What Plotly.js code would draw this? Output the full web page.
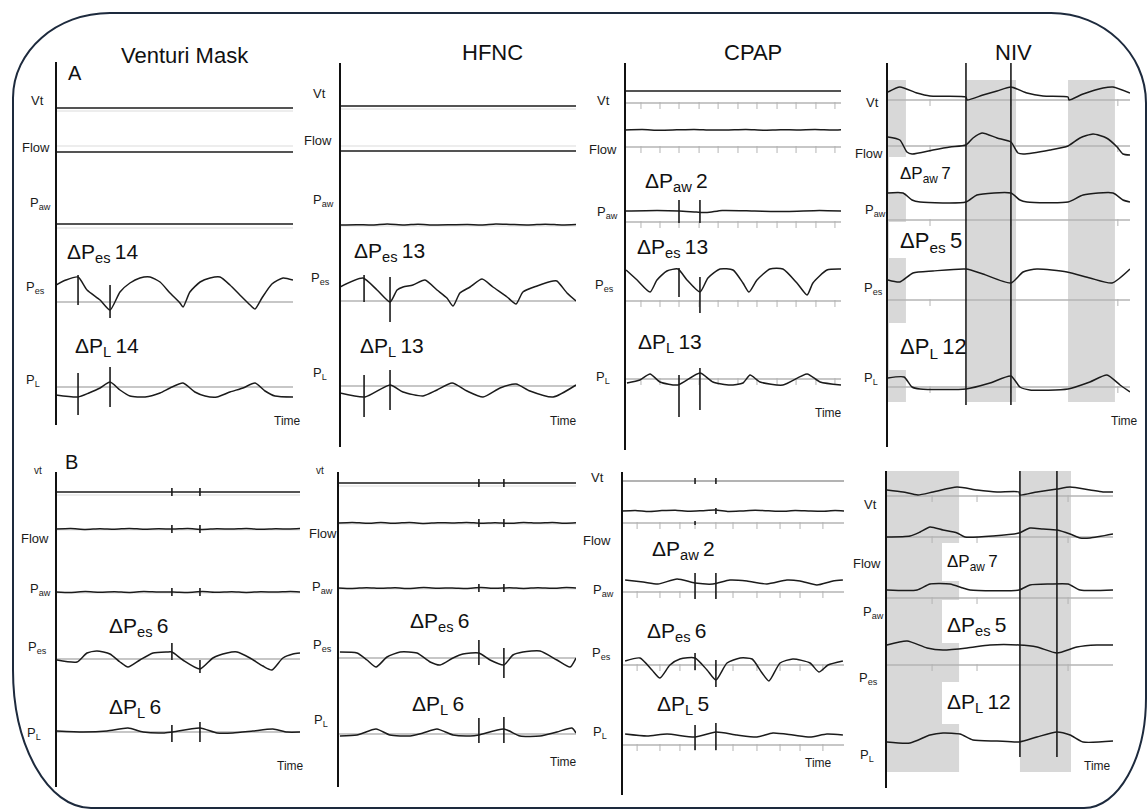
<!DOCTYPE html>
<html><head><meta charset="utf-8">
<script src="https://cdn.plot.ly/plotly-3.0.1.min.js"></script>
<style>html,body{margin:0;padding:0;background:#fff}#chart{width:1148px;height:810px}</style>
</head><body><div id="chart"></div>
<script>
// ================= DATA (time: 0-100 per panel; values: signal units above the grey baseline) =================
const panelTitles = ["Venturi Mask", "HFNC", "CPAP", "NIV"];
const rowLetters = ["A", "B"];
const channelNames = ["Vt", "Flow", "P<sub>aw</sub>", "P<sub>es</sub>", "P<sub>L</sub>"];
const timeLabel = "Time";

// ---- Row A : Venturi Mask ----
const A_vm_vt_t = [0, 25, 50, 75, 100];           const A_vm_vt = [3, 3, 3, 3, 3];
const A_vm_flow_t = [0, 25, 50, 75, 100];         const A_vm_flow = [-6, -6, -6, -6, -6];
const A_vm_paw_t = [0, 25, 50, 75, 100];          const A_vm_paw = [4, 4, 4, 4, 4];
const A_vm_pes_t = [0, 4.2, 9.3, 13.1, 18.6, 22.8, 27.0, 31.2, 35.4, 39.7, 43.9, 48.1, 52.3, 53.6, 56.5, 60.8, 65.0, 69.2, 73.4, 77.6, 81.9, 84.0, 86.9, 91.1, 95.8, 100];
const A_vm_pes   = [17, 22, 25, 12, 2, -8, 10, 19, 24, 25, 20, 9, -1, -5, 10, 20, 24, 25, 17, 7, -3, -7, 4, 18, 24, 22];
const A_vm_pl_t = [0, 9.3, 13.9, 18.6, 22.8, 27.0, 31.2, 37.6, 43.9, 48.1, 53.6, 58.6, 62.9, 67.9, 73.4, 78.9, 84.0, 88.2, 92.4, 100];
const A_vm_pl   = [-8, -10, -6, -1, 5, -3, -9, -10, -6, -1, 4, -5, -9, -10, -5, -1, 4, -4, -9, -10];
const A_vm_marks = { pes: [[9.3, 27, -3], [22.8, 17, -16]], pl: [[9.3, 14, -28], [22.8, 20, -20]] };
const A_vm_deltas = [["P<sub>es</sub>", 14], ["P<sub>L</sub>", 14]];

// ---- Row A : HFNC ----
const A_hf_vt_t = [0, 25, 50, 75, 100];           const A_hf_vt = [3, 3, 3, 3, 3];
const A_hf_flow_t = [0, 25, 50, 75, 100];         const A_hf_flow = [-5, -5, -5, -5, -5];
const A_hf_paw_t = [0, 7, 14, 20, 27, 33, 40, 47, 54, 60, 66, 72, 80, 87, 94, 100];
const A_hf_paw   = [1, 1.3, 1, 2, 1, 1.8, 1, 1.2, 1.5, 1, 2, 1.6, 1, 1.8, 1, 1.4];
const A_hf_pes_t = [0, 9.7, 15.7, 21.2, 24.2, 26.7, 30.9, 36.0, 41.1, 45.3, 47.9, 50.8, 55.1, 60.2, 64.8, 70.8, 74.6, 77.5, 83.5, 90.3, 91.9, 96.2, 100];
const A_hf_pes   = [14, 23, 11, -1, 11, 14, 16, 21, 11, 3, -5, 8, 14, 22, 14, 4, -3, 9, 15, 20, 20, 8, 0];
const A_hf_pl_t = [0, 10.6, 21.2, 26.7, 35.2, 41.1, 47.5, 53.8, 60.6, 67.8, 74.6, 80.5, 90.3, 100];
const A_hf_pl   = [-7, -11, 1, -6, -10, -4, 3, -5, -11, -2, 2, -5, -11, 1];
const A_hf_marks = { pes: [[10.2, 26, -1], [21.2, 24, -21]], pl: [[10.2, 11, -31], [21.2, 16, -24]] };
const A_hf_deltas = [["P<sub>es</sub>", 13], ["P<sub>L</sub>", 13]];

// ---- Row A : CPAP ----
const A_cp_vt_t = [0, 25, 50, 75, 100];           const A_cp_vt = [12, 12, 12, 12, 12];
const A_cp_flow_t = [0, 8, 16, 24, 32, 40, 48, 56, 64, 72, 80, 88, 96, 100];
const A_cp_flow   = [17, 17.4, 16.8, 17.2, 17.6, 16.9, 17.1, 17.5, 16.8, 17.3, 17, 17.4, 16.9, 17.2];
const A_cp_paw_t = [0, 15, 25, 33, 38, 45, 60, 75, 90, 100];
const A_cp_paw   = [11, 11.5, 11, 10, 9.5, 11.5, 11, 10.5, 11.5, 11];
const A_cp_pes_t = [0.5, 5.6, 11.6, 14.8, 19.4, 24.5, 28.7, 34.7, 38.4, 44.0, 50.0, 54.6, 57.4, 61.1, 67.1, 73.1, 79.6, 84.3, 87.0, 93.5, 100];
const A_cp_pes   = [31, 21, 9, 21, 30, 32, 21, 9, 23, 32, 31, 18, 9, 21, 32, 32, 18, 6, 18, 31, 32];
const A_cp_pl_t = [0.9, 6.9, 11.6, 16.2, 24.5, 34.7, 40.7, 48.6, 54.6, 57.9, 62.5, 73.1, 84.3, 90.3, 100];
const A_cp_pl   = [-4, -1, 5, -3, -6, 6, -3, -6, -4, 4, -3, -6, 5, -3, -6];
const A_cp_marks = { paw: [[25.0, 22, -1], [34.7, 22, -1]], pes: [[25.0, 33, 4], [34.7, 24, -12]], pl: [[25.0, 4, -38], [34.7, 11, -31]] };
const A_cp_ticks = [7.4, 16.2, 25.0, 34.3, 43.1, 52.3, 61.1, 70.4, 79.2, 88.4, 97.2];
const A_cp_deltas = [["P<sub>aw</sub>", 2], ["P<sub>es</sub>", 13], ["P<sub>L</sub>", 13]];

// ---- Row A : NIV ----
const A_niv_vt_t = [0.4, 5.3, 12.3, 17.7, 32.5, 32.9, 39.5, 45.3, 51.0, 57.6, 64.2, 74.5, 74.9, 80.7, 88.9, 93.0, 100];
const A_niv_vt   = [8, 13, 7, 4, 3, 0, 5, 9, 13, 7, 4, 3, 0, 6, 12, 13, 7];
const A_niv_flow_t = [0.4, 5.3, 8.2, 10.3, 18.9, 25.9, 32.5, 35.4, 39.1, 45.3, 51.0, 53.9, 56.0, 67.1, 74.5, 79.4, 84.8, 90.3, 94.7, 97.1, 100];
const A_niv_flow   = [9, 6, -6, -8, -4, -1, 1, 8, 13, 8, 4, -7, -8, -4, 0, 8, 12, 8, -1, -8, -9];
const A_niv_paw_t = [0.4, 6.6, 10.3, 13.6, 32.5, 37.0, 51.0, 54.7, 57.6, 74.5, 80.7, 93.0, 97.1, 100];
const A_niv_paw   = [27, 27, 20, 18, 18, 25, 27, 20, 18, 18, 25, 27, 20, 18];
const A_niv_pes_t = [0.4, 5.3, 10.7, 18.9, 32.5, 39.5, 51.0, 56.0, 61.7, 74.1, 83.5, 92.6, 100];
const A_niv_pes   = [20, 18, 27, 29, 31, 26, 17, 28, 31, 28, 22, 17, 31];
const A_niv_pl_t = [0.4, 7.0, 10.3, 13.6, 32.5, 42.4, 51.0, 54.7, 58.8, 74.5, 83.5, 90.5, 95.9, 100];
const A_niv_pl   = [9, 10, 0, -2, -2, 4, 11, 0, -3, -2, 5, 12, 2, -5];
const A_niv_inspiration = [[0.4, 7.8], [32.9, 53.1], [74.5, 93.8]];
const A_niv_cursors = [32.5, 51.0];
const A_niv_ticks = [17.7, 51.0, 95.0];
const A_niv_deltas = [["P<sub>aw</sub>", 7], ["P<sub>es</sub>", 5], ["P<sub>L</sub>", 12]];

// ---- Row B : Venturi Mask ----
const B_vm_vt_t = [0, 25, 50, 75, 100];           const B_vm_vt = [3, 3, 3, 3, 3];
const B_vm_flow_t = [0, 6, 12, 18, 24, 30, 36, 42, 48, 54, 60, 66, 72, 78, 84, 90, 96, 100];
const B_vm_flow   = [1, 1.5, 0.6, 1.3, 0.8, 1.6, 0.7, 1.2, 1, 1.5, 0.6, 1.3, 0.9, 1.5, 0.7, 1.2, 1, 1.4];
const B_vm_paw_t = [0, 6, 12, 18, 24, 30, 36, 42, 48, 54, 60, 66, 72, 78, 84, 90, 96, 100];
const B_vm_paw   = [1, 0.5, 1.4, 0.8, 1.2, 0.6, 1.5, 0.9, 1.1, 0.6, 1.4, 0.8, 1.3, 0.6, 1.2, 0.9, 1.4, 1];
const B_vm_pes_t = [0.4, 8.6, 12.7, 16.8, 22.1, 26.2, 29.5, 34.4, 39.8, 45.5, 47.5, 52.0, 59.0, 64.3, 70.1, 74.2, 79.5, 84.8, 88.5, 93.0, 97.1, 100];
const B_vm_pes   = [-1, -3, 6, 8, 5, -3, -8, -1, 6, 7, 7, -1, -10, 1, 6, 7, 1, -7, -11, 1, 5, 6];
const B_vm_pl_t = [0.4, 11.1, 20.9, 29.5, 35.7, 43.9, 47.5, 59.0, 66.0, 72.5, 80.7, 88.9, 94.7, 100];
const B_vm_pl   = [1, 0, 1, 4, 0, -1, 0, 4, -1, -1, 1, 3, 0, 0];
const B_vm_marks = { vt: [[47.5, 7, -1], [59.0, 7, -1]], flow: [[47.5, 5, -3], [59.0, 5, -3]], paw: [[47.5, 5, -3], [59.0, 5, -3]],
                     pes: [[47.5, 16, -1], [59.0, -1, -14]], pl: [[47.5, 7, -10], [59.0, 10, -10]] };
const B_vm_deltas = [["P<sub>es</sub>", 6], ["P<sub>L</sub>", 6]];

// ---- Row B : HFNC ----
const B_hf_vt_t = [0, 25, 50, 75, 100];           const B_hf_vt = [3, 3, 3, 3, 3];
const B_hf_flow_t = [0, 6, 12, 18, 24, 30, 36, 42, 48, 54, 60, 66, 72, 78, 84, 90, 96, 100];
const B_hf_flow   = [1, 1.6, 0.7, 1.4, 0.8, 1.5, 0.6, 1.3, 1, 1.6, 0.8, 1.3, 0.7, 1.5, 0.9, 1.4, 0.8, 1.2];
const B_hf_paw_t = [0, 6, 12, 18, 24, 30, 36, 42, 48, 54, 60, 66, 72, 78, 84, 90, 96, 100];
const B_hf_paw   = [1, 0.5, 1.3, 0.7, 1.2, 0.5, 1.4, 0.8, 1.1, 0.6, 1.5, 0.7, 1.2, 0.6, 1.3, 0.8, 1.4, 1];
const B_hf_pes_t = [0.8, 8.0, 12.2, 16.0, 20.6, 26.1, 33.2, 38.7, 42.9, 48.3, 52.5, 59.2, 63.9, 69.7, 73.5, 77.7, 84.9, 92.0, 97.5, 100];
const B_hf_pes   = [6, 5, -2, -9, 1, 6, 5, -4, -7, 0, 4, 5, -2, -7, 3, 6, 7, -2, -9, 0];
const B_hf_pl_t = [0.8, 8.0, 16.0, 21.8, 30.3, 35.7, 41.6, 48.3, 55.5, 59.2, 69.7, 76.5, 84.9, 92.0, 98.3, 100];
const B_hf_pl   = [-2, -1, 5, -1, -2, 1, 5, -1, -2, -1, 5, -2, -2, 2, 6, 1];
const B_hf_marks = { vt: [[59.2, 7, -1], [69.7, 7, -1]], flow: [[59.2, 5, -3], [69.7, 5, -3]], paw: [[59.2, 5, -3], [69.7, 5, -3]],
                     pes: [[59.2, 18, -7], [69.7, 10, -20]], pl: [[59.2, 16, -9], [69.7, 17, -9]] };
const B_hf_deltas = [["P<sub>es</sub>", 6], ["P<sub>L</sub>", 6]];

// ---- Row B : CPAP ----
const B_cp_vt_t = [0, 25, 50, 75, 100];           const B_cp_vt = [0, 0, 0, 0, 0];
const B_cp_flow_t = [0, 6, 12, 18, 24, 30, 36, 42, 48, 54, 60, 66, 72, 78, 84, 90, 96, 100];
const B_cp_flow   = [12, 12.6, 11.6, 12.4, 12.8, 11.8, 12.3, 13, 11.5, 12, 12.7, 12.2, 11.7, 12.5, 12.1, 11.8, 12.4, 12];
const B_cp_paw_t = [1.4, 9.5, 16.2, 24.8, 32.9, 41.0, 48.6, 56.3, 65.3, 74.3, 80.2, 87.8, 95.0, 99.5];
const B_cp_paw   = [12, 10, 8, 13, 9, 8, 12, 11, 8, 12, 11, 7, 11, 12];
const B_cp_pes_t = [1.4, 8.1, 13.5, 17.1, 21.6, 26.1, 32.9, 38.3, 42.3, 47.3, 53.2, 58.6, 63.1, 66.2, 71.2, 77.0, 84.7, 88.7, 92.8, 99.5];
const B_cp_pes   = [4, 7, -5, -13, 0, 6, 7, -5, -15, 2, 7, 6, -8, -16, 2, 6, 2, -7, 0, 4];
const B_cp_pl_t = [1.4, 11.3, 20.3, 32.9, 42.3, 51.8, 60.8, 68.0, 77.0, 84.7, 92.3, 99.5];
const B_cp_pl   = [11, 9, 11, 8, 13, 10, 8, 12, 10, 8, 11, 10];
const B_cp_marks = { vt: [[32.9, 3, -3], [42.3, 3, -3]], flow: [[32.9, 2, -2], [42.3, 15, 9]], paw: [[32.9, 19, -7], [42.3, 19, -7]],
                     pes: [[32.9, 12, -5], [42.3, 5, -22]], pl: [[32.9, 20, -5], [42.3, 22, -5]] };
const B_cp_ticks = [6.8, 17.1, 26.1, 32.9, 42.3, 50.0, 60.8, 71.2, 80.2, 90.5];
const B_cp_deltas = [["P<sub>aw</sub>", 2], ["P<sub>es</sub>", 6], ["P<sub>L</sub>", 5]];

// ---- Row B : NIV ----
const B_niv_vt_t = [0.4, 7.5, 14.1, 20.7, 31.3, 40.1, 48.9, 58.6, 59.0, 66.5, 75.3, 81.1, 89.9, 95.6, 100];
const B_niv_vt   = [6, 4, 1, 4, 9, 6, 4, 4, 1, 4, 7, 9, 6, 4, 4];
const B_niv_flow_t = [0.4, 10.6, 15.0, 19.4, 25.1, 31.3, 34.8, 47.1, 58.6, 63.4, 69.2, 75.3, 81.1, 85.5, 89.9, 100];
const B_niv_flow   = [0, 1, 5, 10, 7, 4, 0, 1, 4, 9, 8, 7, 3, -1, -1, 3];
const B_niv_paw_t = [0.4, 13.7, 19.4, 28.2, 33.9, 37.0, 58.6, 63.4, 72.2, 80.2, 85.5, 100];
const B_niv_paw   = [8, 8, 14, 14, 10, 8, 8, 13, 14, 14, 8, 8];
const B_niv_pes_t = [0.4, 9.3, 18.1, 25.1, 35.7, 45.8, 58.6, 66.5, 75.3, 84.1, 92.9, 100];
const B_niv_pes   = [20, 24, 17, 15, 17, 20, 20, 18, 12, 18, 20, 20];
const B_niv_pl_t = [0.4, 10.6, 19.4, 25.1, 32.6, 38.3, 48.9, 58.6, 66.5, 75.3, 81.1, 86.8, 100];
const B_niv_pl   = [0, -1, 7, 9, 8, 2, 1, 0, 5, 10, 7, 0, 1];
const B_niv_inspiration = [[0, 32.2], [59.0, 81.5]];
const B_niv_cursors = [59.0, 75.3];
const B_niv_ticks = [20.3, 40.1, 80.2];
const B_niv_deltas = [["P<sub>aw</sub>", 7], ["P<sub>es</sub>", 5], ["P<sub>L</sub>", 12]];

// ================= LAYOUT (pixel geometry of the figure) =================
const W = 1148, H = 810, R = 40;
const X = px => px / W, Y = py => 1 - py / H;
const FONT = '"Liberation Sans", Arial, sans-serif';
const INK = '#1b1b1b', GREY = '#b4b4b4', FAINT = '#dcdcdc';

const panels = [
  { x0: 56, x1: 293, ax: [62, 425], base: [111, 146, 228, 302, 387], bl: ['f','f','f','g','g'],
    lab: [[37,100],[36,147],[40,204],[35,287],[33,380]], time: [287,421], title: [185,56],
    ch: [[A_vm_vt_t,A_vm_vt],[A_vm_flow_t,A_vm_flow],[A_vm_paw_t,A_vm_paw],[A_vm_pes_t,A_vm_pes],[A_vm_pl_t,A_vm_pl]],
    marks: A_vm_marks, deltas: A_vm_deltas, dpos: [[65,253,21],[73,347,21]] },
  { x0: 340, x1: 576, ax: [63, 447], base: [109, 146, 226, 301, 386], bl: ['f','f','f','g','g'],
    lab: [[319,94],[318,141],[323,200],[320,278],[320,373]], time: [563,421], title: [492,52],
    ch: [[A_hf_vt_t,A_hf_vt],[A_hf_flow_t,A_hf_flow],[A_hf_paw_t,A_hf_paw],[A_hf_pes_t,A_hf_pes],[A_hf_pl_t,A_hf_pl]],
    marks: A_hf_marks, deltas: A_hf_deltas, dpos: [[352,252,21],[358,347,21]] },
  { x0: 625, x1: 841, ax: [63, 450], base: [103, 147, 222, 301, 379], bl: ['g','g','g','g','g'],
    lab: [[603,100],[603,150],[607,212],[605,285],[603,377]], time: [828,413], title: [753,52], ticks: A_cp_ticks,
    ch: [[A_cp_vt_t,A_cp_vt],[A_cp_flow_t,A_cp_flow],[A_cp_paw_t,A_cp_paw],[A_cp_pes_t,A_cp_pes],[A_cp_pl_t,A_cp_pl]],
    marks: A_cp_marks, deltas: A_cp_deltas, dpos: [[643,182,21],[635,248,21],[636,343,21]] },
  { x0: 887, x1: 1130, ax: [63, 447], base: [100, 146, 220, 300, 387], bl: ['g','g','g','g','g'],
    lab: [[872,103],[869,153],[875,210],[873,288],[871,378]], time: [1124,421], title: [1013,52], ticks: A_niv_ticks,
    ch: [[A_niv_vt_t,A_niv_vt],[A_niv_flow_t,A_niv_flow],[A_niv_paw_t,A_niv_paw],[A_niv_pes_t,A_niv_pes],[A_niv_pl_t,A_niv_pl]],
    marks: {}, deltas: A_niv_deltas, dpos: [[898,175,17],[898,242,22],[898,348,22]],
    boxes: [[889,157,962,193],[889,222,962,258],[889,323,962,370]], shade: A_niv_inspiration, shadeY: [80, 402],
    cursors: A_niv_cursors, cursorY: [63, 405] },
  { x0: 56, x1: 300, ax: [472, 787], base: [495, 530, 593, 659, 732], bl: ['f','f','f','g','g'],
    lab: [[38,470],[35,538],[40,589],[37,647],[34,733]], time: [290,766],
    ch: [[B_vm_vt_t,B_vm_vt],[B_vm_flow_t,B_vm_flow],[B_vm_paw_t,B_vm_paw],[B_vm_pes_t,B_vm_pes],[B_vm_pl_t,B_vm_pl]],
    marks: B_vm_marks, deltas: B_vm_deltas, dpos: [[107,627,21],[107,708,21]] },
  { x0: 338, x1: 576, ax: [472, 787], base: [486, 524, 589, 658, 734], bl: ['f','f','f','g','g'],
    lab: [[320,470],[323,533],[322,587],[322,645],[321,720]], time: [563,762],
    ch: [[B_hf_vt_t,B_hf_vt],[B_hf_flow_t,B_hf_flow],[B_hf_paw_t,B_hf_paw],[B_hf_pes_t,B_hf_pes],[B_hf_pl_t,B_hf_pl]],
    marks: B_hf_marks, deltas: B_hf_deltas, dpos: [[408,622,21],[410,705,21]] },
  { x0: 622, x1: 844, ax: [472, 795], base: [481, 523, 592, 665, 745], bl: ['n','g','g','g','g'],
    lab: [[597,477],[597,540],[603,590],[601,653],[600,732]], time: [818,763], vtGrey: true, ticks: B_cp_ticks,
    ch: [[B_cp_vt_t,B_cp_vt],[B_cp_flow_t,B_cp_flow],[B_cp_paw_t,B_cp_paw],[B_cp_pes_t,B_cp_pes],[B_cp_pl_t,B_cp_pl]],
    marks: B_cp_marks, deltas: B_cp_deltas, dpos: [[650,550,21],[645,632,21],[655,705,21]] },
  { x0: 886, x1: 1113, ax: [471, 788], base: [496, 537, 598, 665, 742], bl: ['g','g','g','g','n'],
    lab: [[870,504],[867,563],[873,612],[868,678],[867,755]], time: [1097,766], ticks: B_niv_ticks,
    ch: [[B_niv_vt_t,B_niv_vt],[B_niv_flow_t,B_niv_flow],[B_niv_paw_t,B_niv_paw],[B_niv_pes_t,B_niv_pes],[B_niv_pl_t,B_niv_pl]],
    marks: {}, deltas: B_niv_deltas, dpos: [[945,563,17],[945,626,21],[945,703,21]],
    boxes: [[942,543,1010,581],[942,600,1010,643],[942,682,1010,724]], shade: B_niv_inspiration, shadeY: [471, 772],
    cursors: B_niv_cursors, cursorY: [471, 757] }
];
const markKeys = ['vt', 'flow', 'paw', 'pes', 'pl'];

const data = [];
const shapes = [];
const annotations = [];
const layout = { width: W, height: H, margin: { l: 0, r: 0, t: 0, b: 0 }, showlegend: false,
  paper_bgcolor: '#ffffff', plot_bgcolor: 'rgba(0,0,0,0)', shapes, annotations, hovermode: false };

// rounded frame
(function () {
  const L = 13, T = 13, Rt = 1146, B = 808, k = 0.552;
  const tl = [97, 85], tr = [95, 90], br = [62, 110], bl = [78, 138];
  const P = (x, y) => X(x) + ',' + Y(y);
  const path = 'M' + P(L + tl[0], T) + ' L' + P(Rt - tr[0], T) +
    ' C' + P(Rt - tr[0] * (1 - k), T) + ' ' + P(Rt, T + tr[1] * (1 - k)) + ' ' + P(Rt, T + tr[1]) +
    ' L' + P(Rt, B - br[1]) +
    ' C' + P(Rt, B - br[1] * (1 - k)) + ' ' + P(Rt - br[0] * (1 - k), B) + ' ' + P(Rt - br[0], B) +
    ' L' + P(L + bl[0], B) +
    ' C' + P(L + bl[0] * (1 - k), B) + ' ' + P(L, B - bl[1] * (1 - k)) + ' ' + P(L, B - bl[1]) +
    ' L' + P(L, T + tl[1]) +
    ' C' + P(L, T + tl[1] * (1 - k)) + ' ' + P(L + tl[0] * (1 - k), T) + ' ' + P(L + tl[0], T) + ' Z';
  shapes.push({ type: 'path', xref: 'paper', yref: 'paper', path: path, line: { color: '#1d2a3d', width: 2 }, layer: 'above' });
})();

panels.forEach((p, i) => {
  const xid = i === 0 ? 'x' : 'x' + (i + 1);
  const xname = i === 0 ? 'xaxis' : 'xaxis' + (i + 1);
  const firstY = 'y' + (i * 5 + 1 === 1 ? '' : i * 5 + 1);
  layout[xname] = { domain: [X(p.x0), X(p.x1)], range: [0, 100], visible: false, fixedrange: true, anchor: firstY };

  if (p.shade) p.shade.forEach(s => shapes.push({ type: 'rect', xref: xid, yref: 'paper', x0: s[0], x1: s[1],
      y0: Y(p.shadeY[1]), y1: Y(p.shadeY[0]), fillcolor: '#d8d8d8', line: { width: 0 }, layer: 'below' }));
  if (p.boxes) p.boxes.forEach(b => shapes.push({ type: 'rect', xref: 'paper', yref: 'paper', x0: X(b[0]), x1: X(b[2]),
      y0: Y(b[3]), y1: Y(b[1]), fillcolor: '#ffffff', line: { width: 0 }, layer: 'below' }));

  p.ch.forEach((c, j) => {
    const n = i * 5 + j + 1;
    const yid = n === 1 ? 'y' : 'y' + n;
    const yname = n === 1 ? 'yaxis' : 'yaxis' + n;
    layout[yname] = { domain: [Y(p.base[j] + R), Y(p.base[j] - R)], range: [-R, R], visible: false, fixedrange: true, anchor: xid };
    if (p.bl[j] !== 'n') shapes.push({ type: 'line', xref: xid + ' domain', x0: 0, x1: 1, yref: yid, y0: 0, y1: 0,
        line: { color: p.bl[j] === 'g' ? GREY : FAINT, width: p.bl[j] === 'g' ? 1.6 : 1.2 }, layer: 'below' });
    if (p.ticks && p.bl[j] !== 'n') data.push({ type: 'scatter', mode: 'markers', x: p.ticks, y: p.ticks.map(() => -2.5),
        xaxis: xid, yaxis: yid, marker: { symbol: 'line-ns', size: 5, line: { color: GREY, width: 1 } }, hoverinfo: 'skip' });
    const grey = (p.vtGrey && j === 0);
    data.push({ type: 'scatter', mode: 'lines', x: c[0], y: c[1], xaxis: xid, yaxis: yid,
      line: { color: grey ? '#9a9a9a' : INK, width: grey ? 1.4 : 1.5, shape: 'spline', smoothing: 0.6 }, hoverinfo: 'skip' });
    const mk = p.marks[markKeys[j]];
    if (mk) mk.forEach(m => data.push({ type: 'scatter', mode: 'lines', x: [m[0], m[0]], y: [m[1], m[2]], xaxis: xid, yaxis: yid,
      line: { color: INK, width: 1.6 }, hoverinfo: 'skip' }));
    let txt = channelNames[j];
    let fs = 13;
    if (j === 0 && i >= 4 && i <= 5) { txt = 'vt'; fs = 10; }
    annotations.push({ xref: 'paper', yref: 'paper', x: X(p.lab[j][0]), y: Y(p.lab[j][1]), xanchor: 'center', yanchor: 'middle',
      text: txt, showarrow: false, font: { family: FONT, size: fs, color: INK } });
  });

  if (p.cursors) p.cursors.forEach(cx => shapes.push({ type: 'line', xref: xid, yref: 'paper', x0: cx, x1: cx,
      y0: Y(p.cursorY[1]), y1: Y(p.cursorY[0]), line: { color: INK, width: 1.6 }, layer: 'above' }));

  shapes.push({ type: 'line', xref: 'paper', yref: 'paper', x0: X(p.x0), x1: X(p.x0), y0: Y(p.ax[1]), y1: Y(p.ax[0]),
    line: { color: '#111', width: 2 }, layer: 'above' });

  p.deltas.forEach((d, k) => {
    const pos = p.dpos[k];
    annotations.push({ xref: 'paper', yref: 'paper', x: X(pos[0]), y: Y(pos[1]), xanchor: 'left', yanchor: 'middle',
      text: '\u0394P' + d[0].slice(1) + '\u2009' + d[1], showarrow: false, font: { family: FONT, size: pos[2], color: '#111' } });
  });

  annotations.push({ xref: 'paper', yref: 'paper', x: X(p.time[0]), y: Y(p.time[1]), xanchor: 'center', yanchor: 'middle',
    text: timeLabel, showarrow: false, font: { family: FONT, size: 12, color: INK } });

  if (p.title) annotations.push({ xref: 'paper', yref: 'paper', x: X(p.title[0]), y: Y(p.title[1]), xanchor: 'center', yanchor: 'middle',
    text: panelTitles[i], showarrow: false, font: { family: FONT, size: 22, color: '#111' } });
});

annotations.push({ xref: 'paper', yref: 'paper', x: X(66), y: Y(73), xanchor: 'left', yanchor: 'middle', text: rowLetters[0],
  showarrow: false, font: { family: FONT, size: 20, color: '#111' } });
annotations.push({ xref: 'paper', yref: 'paper', x: X(63), y: Y(462), xanchor: 'left', yanchor: 'middle', text: rowLetters[1],
  showarrow: false, font: { family: FONT, size: 20, color: '#111' } });

Plotly.newPlot('chart', data, layout, { staticPlot: true, displayModeBar: false });
</script>
</body></html>
